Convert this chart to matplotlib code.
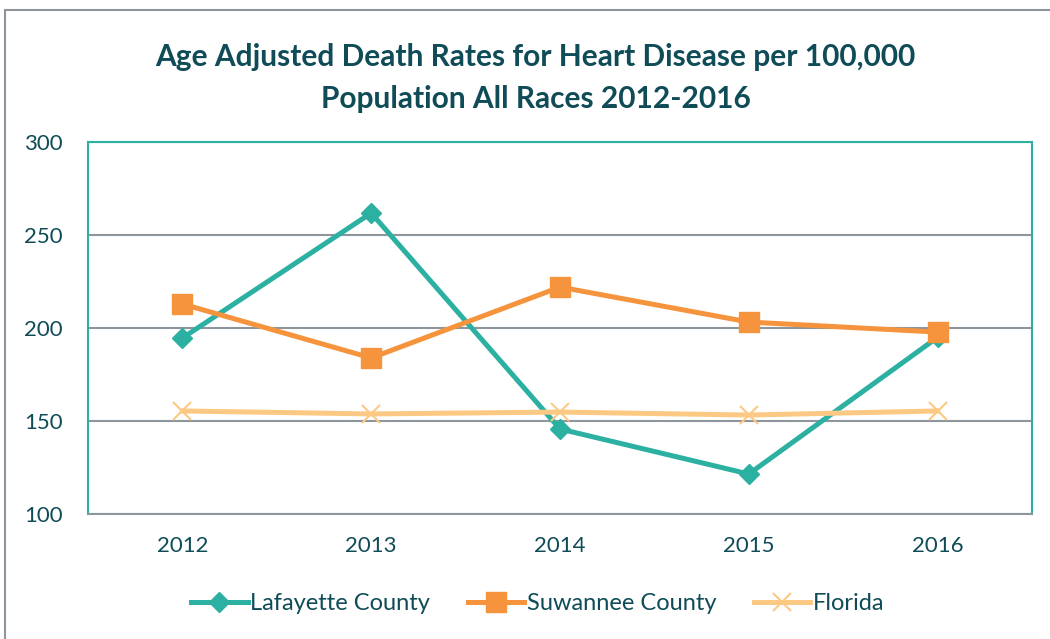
import matplotlib.pyplot as plt
from matplotlib.patches import Rectangle

years = ['2012', '2013', '2014', '2015', '2016']
lafayette = [194.6, 261.8, 145.7, 121.5, 195.0]
suwannee = [212.9, 183.9, 222.0, 203.2, 197.8]
florida = [155.4, 153.8, 154.8, 153.2, 155.4]

text_col = '#0f4c57'
plt.rcParams['font.family'] = ['Lato', 'DejaVu Sans']

fig = plt.figure(figsize=(10.5, 6.39), dpi=100)
ax = fig.add_axes([88 / 1050, 1 - 514 / 639, 944 / 1050, 372 / 639])

# outer chart border (cut off at right and bottom)
fig.patches.append(Rectangle((5 / 1050, -0.1), 1.2, 1 - 10 / 639 + 0.1, transform=fig.transFigure,
                             fill=False, edgecolor='#8c969c', linewidth=1.5))

x = range(len(years))
ax.plot(x, lafayette, color='#2bb0a2', lw=3.6, marker='D', ms=10, label='Lafayette County')
ax.plot(x, suwannee, color='#f5943c', lw=3.6, marker='s', ms=14, label='Suwannee County')
ax.plot(x, florida, color='#fcc984', lw=3.6, marker='x', ms=13, mew=1.5, label='Florida')

ax.set_xlim(-0.5, len(years) - 0.5)
ax.set_ylim(100, 300)
ax.set_yticks([100, 150, 200, 250, 300])
ax.set_xticks(list(x))
ax.set_xticklabels(years)
ax.yaxis.grid(True, color='#8c969c', lw=1.5)
ax.set_axisbelow(True)
ax.tick_params(length=0, labelsize=16, labelcolor=text_col)
ax.tick_params(axis='y', pad=18)
ax.tick_params(axis='x', pad=16)
for s in ['top', 'left', 'right']:
    ax.spines[s].set_color('#2bb0a2')
    ax.spines[s].set_linewidth(1.5)
ax.spines['bottom'].set_color('#8c969c')
ax.spines['bottom'].set_linewidth(1.5)

fig.text(0.51, 1 - 78 / 639, 'Age Adjusted Death Rates for Heart Disease per 100,000\nPopulation All Races 2012-2016',
         ha='center', va='center', fontsize=21.5, fontweight='bold', color=text_col, linespacing=1.6)

leg = fig.legend(loc='center', bbox_to_anchor=(0.512, 1 - 604 / 639), ncol=3, frameon=False,
                 fontsize=17, handlelength=2.4, handletextpad=0.1, columnspacing=1.6, labelcolor=text_col)

fig.savefig('out.png', dpi=100)
